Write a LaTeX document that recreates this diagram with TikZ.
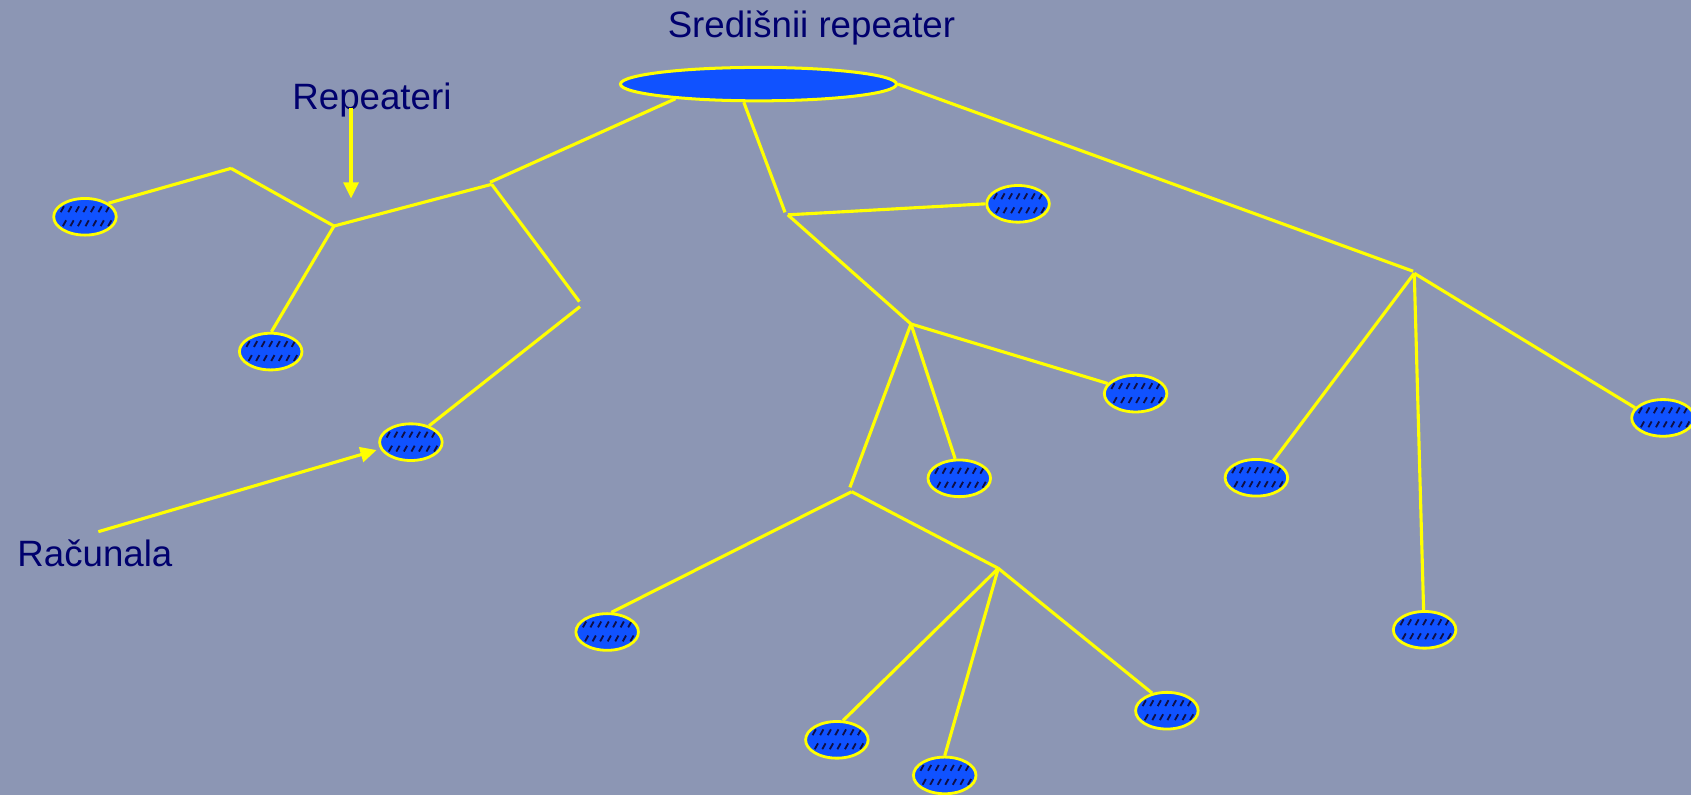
\documentclass[tikz,border=0pt]{standalone}
\usepackage{fontspec}
\setmainfont{Liberation Sans}
\usetikzlibrary{shapes.geometric,arrows.meta}
\definecolor{bg}{RGB}{140,150,180}
\definecolor{nodeblue}{RGB}{16,82,255}
\definecolor{navy}{RGB}{0,0,110}
\definecolor{hatchc}{RGB}{15,15,70}
\definecolor{wire}{RGB}{255,255,0}
\begin{document}
\begin{tikzpicture}[x=1pt,y=-1pt,
 wirestyle/.style={draw=wire,line width=2.9pt},
 hubstyle/.style={ellipse,draw=wire,fill=nodeblue,line width=2.8pt,minimum width=256pt,minimum height=31pt,inner sep=0pt},
 comp/.style={ellipse,draw=wire,fill=nodeblue,line width=2.6pt,minimum width=58pt,minimum height=34pt,inner sep=0pt,
   path picture={\foreach \dx in {-21,-14,...,21}{
     \draw[hatchc,line width=1.7pt] (path picture bounding box.center) ++(\dx,-7) ++(-1.5,2.7) -- ++(3,-5.4);
     \draw[hatchc,line width=1.7pt] (path picture bounding box.center) ++(\dx+2,6) ++(-1.5,2.7) -- ++(3,-5.4);}}},
 lbl/.style={text=navy,font=\fontsize{34}{40}\selectfont,anchor=base west,inner sep=0pt},
 pointer/.style={draw=wire,line width=2.9pt,-{Triangle[length=15pt,width=14pt]}}]
\fill[bg] (0,0) rectangle (1568,737);
\useasboundingbox (0,0) rectangle (1568,737);

% labels
\node[lbl] (tcentral) at (619,34.6) {Središnii repeater};
\node[lbl] (trep) at (271,101.4) {Repeateri};
\node[lbl] (tcomp) at (16,525.4) {Računala};

% central repeater
\node[hubstyle] (hub) at (703.3,78) {};

% computers
\node[comp] (c1) at (78.8,201) {};
\node[comp] (c2) at (251,326) {};
\node[comp] (c3) at (381,410) {};
\node[comp] (c4) at (944,189) {};
\node[comp] (c5) at (1053,365) {};
\node[comp] (c6) at (889.5,443.5) {};
\node[comp] (c7) at (1165,443) {};
\node[comp] (c8) at (1542,387.5) {};
\node[comp] (c9) at (563,586) {};
\node[comp] (c10) at (1321,584) {};
\node[comp] (c11) at (1082,659) {};
\node[comp] (c12) at (776,686) {};
\node[comp] (c13) at (876,719) {};

% junction points
\coordinate (j1a) at (454.4,169);
\coordinate (j1) at (455.9,170.9);
\coordinate (k1) at (537.2,279.7);
\coordinate (k2) at (537.8,284.3);
\coordinate (jb) at (309.7,209.6);
\coordinate (ja) at (214.2,156.1);
\coordinate (jc1) at (727.9,196.9);
\coordinate (jc) at (730.5,199.2);
\coordinate (jd) at (844.7,300.4);
\coordinate (je1) at (788.1,451.9);
\coordinate (je) at (789.7,455.9);
\coordinate (jf) at (925.7,527);
\coordinate (jg1) at (1310.3,251.5);
\coordinate (jg) at (1311.4,253.4);

% left branch
\draw[wirestyle] (hub.-170) -- (j1a);
\draw[wirestyle] (j1) -- (jb);
\draw[wirestyle] (j1) -- (k1);
\draw[wirestyle] (k2) -- (c3.42);
\draw[wirestyle] (jb) -- (ja);
\draw[wirestyle] (ja) -- (c1.30);
\draw[wirestyle] (jb) -- (c2.88);

% middle branch
\draw[wirestyle] (hub.-129) -- (jc1);
\draw[wirestyle] (jc) -- (c4.180);
\draw[wirestyle] (jc) -- (jd);
\draw[wirestyle] (jd) -- (c5.160);
\draw[wirestyle] (jd) -- (c6.102);
\draw[wirestyle] (jd) -- (je1);
\draw[wirestyle] (je) -- (c9.78);
\draw[wirestyle] (je) -- (jf);
\draw[wirestyle] (jf) -- (c12.72);
\draw[wirestyle] (jf) -- (c13.90);
\draw[wirestyle] (jf) -- (c11.130);

% right branch
\draw[wirestyle] (hub.east) -- (jg1);
\draw[wirestyle] (jg) -- (c7.45);
\draw[wirestyle] (jg) -- (c10.93);
\draw[wirestyle] (jg) -- (c8.160);

% pointers
\coordinate (prs) at (325.5,100);
\coordinate (pre) at (325.5,184);
\draw[pointer] (prs) -- (pre);
\coordinate (pcs) at (91.2,493);
\coordinate (pce) at (349.2,417.3);
\draw[pointer] (pcs) -- (pce);
\end{tikzpicture}
\end{document}
